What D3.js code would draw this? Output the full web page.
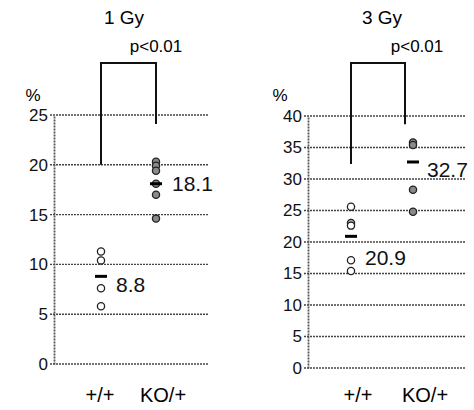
<!DOCTYPE html>
<html>
<head>
<meta charset="utf-8">
<script src="https://cdn.jsdelivr.net/npm/d3@7"></script>
<style>
	body { margin: 0; background: #fff; }
	svg { display: block; font-family: "Liberation Sans", Arial, sans-serif; }
</style>
</head>
<body>
<svg id="chart" width="474" height="410"></svg>
<script>
	// data
	var categories = ['+/+', 'KO/+'];
	var doses = ['1 Gy', '3 Gy'];
	var pLabels = ['p<0.01', 'p<0.01'];
	var yMax = [25, 40];
	var yTicks = [[0, 5, 10, 15, 20, 25], [0, 5, 10, 15, 20, 25, 30, 35, 40]];

	var wt1Gy = [11.3, 10.4, 7.6, 5.8];
	var ko1Gy = [20.3, 19.9, 19.4, 18.1, 17.0, 14.6];
	var wt3Gy = [25.6, 23.0, 22.6, 17.1, 15.4];
	var ko3Gy = [35.8, 35.4, 28.3, 24.8];
	var means1Gy = [8.8, 18.1];
	var means3Gy = [20.9, 32.7];
	var bracketEnds = [[20, 24.1], [32.4, 38.7]];

	var series = [[wt1Gy, ko1Gy], [wt3Gy, ko3Gy]];
	var means = [means1Gy, means3Gy];

	// layout of each panel
	var panels = [
		{ axisX: 54, gridX0: 50, gridX1: 208, y0: 364, y1: 115, xRange: [101, 156],
			titleX: 124, pX: 156, pctX: 33, catDx: [-1, 7], bracketDx: [0, 0],
			labelDx: [15, 16], labelDy: [16, 7] },
		{ axisX: 308, gridX0: 304, gridX1: 466, y0: 368, y1: 116, xRange: [351, 413],
			titleX: 382, pX: 417, pctX: 280, catDx: [7, 12], bracketDx: [0, -8],
			labelDx: [14, 14], labelDy: [29, 15] }
	];

	var svg = d3.select('#chart');

	panels.forEach(function(p, k) {
		var g = svg.append('g');
		var y = d3.scaleLinear().domain([0, yMax[k]]).range([p.y0, p.y1]);
		var x = d3.scalePoint().domain(categories).range(p.xRange);

		// gridlines
		g.selectAll('line.grid')
			.data(yTicks[k])
			.enter()
			.append('line')
			.attr('x1', p.gridX0)
			.attr('x2', p.gridX1)
			.attr('y1', function(d) { return y(d); })
			.attr('y2', function(d) { return y(d); })
			.attr('stroke', '#444')
			.attr('stroke-width', 1.4)
			.attr('stroke-dasharray', '2,1');

		// y axis
		var axis = d3.axisLeft(y).tickValues(yTicks[k]).tickSize(0).tickPadding(6);
		var ax = g.append('g').attr('transform', 'translate(' + p.axisX + ',0)').call(axis);
		ax.select('.domain')
			.attr('stroke', '#555')
			.attr('stroke-width', 1.8)
			.attr('stroke-dasharray', '2,1');
		ax.selectAll('text')
			.attr('font-size', 17)
			.attr('fill', '#111')
			.style('font-family', '"Liberation Sans", Arial, sans-serif');

		// percent sign
		g.append('text')
			.attr('x', p.pctX)
			.attr('y', 101)
			.attr('text-anchor', 'middle')
			.attr('font-size', 17)
			.text('%');

		// title
		g.append('text')
			.attr('x', p.titleX)
			.attr('y', 24)
			.attr('text-anchor', 'middle')
			.attr('font-size', 19)
			.text(doses[k]);

		// significance bracket
		var bx0 = x(categories[0]) + p.bracketDx[0];
		var bx1 = x(categories[1]) + p.bracketDx[1];
		var bTop = 63;
		g.append('path')
			.attr('d', 'M' + bx0 + ',' + y(bracketEnds[k][0]) + 'V' + bTop + 'H' + bx1 + 'V' + y(bracketEnds[k][1]))
			.attr('fill', 'none')
			.attr('stroke', '#111')
			.attr('stroke-width', 2);
		g.append('text')
			.attr('x', p.pX)
			.attr('y', 52)
			.attr('text-anchor', 'middle')
			.attr('font-size', 17)
			.text(pLabels[k]);

		// data points
		categories.forEach(function(c, i) {
			g.selectAll('circle.c' + i)
				.data(series[k][i])
				.enter()
				.append('circle')
				.attr('cx', x(c))
				.attr('cy', function(d) { return y(d); })
				.attr('r', 3.6)
				.attr('fill', i === 0 ? '#fff' : '#8a8a8a')
				.attr('stroke', '#222')
				.attr('stroke-width', 1.3);

			var m = means[k][i];
			g.append('line')
				.attr('x1', x(c) - 6)
				.attr('x2', x(c) + 6)
				.attr('y1', y(m))
				.attr('y2', y(m))
				.attr('stroke', '#000')
				.attr('stroke-width', 3);
			g.append('text')
				.attr('x', x(c) + p.labelDx[i])
				.attr('y', y(m) + p.labelDy[i])
				.attr('font-size', 21)
				.attr('fill', '#111')
				.text(m.toFixed(1));

			g.append('text')
				.attr('x', x(c) + p.catDx[i])
				.attr('y', 402)
				.attr('text-anchor', 'middle')
				.attr('font-size', 20)
				.text(c);
		});
	});
</script>
</body>
</html>
